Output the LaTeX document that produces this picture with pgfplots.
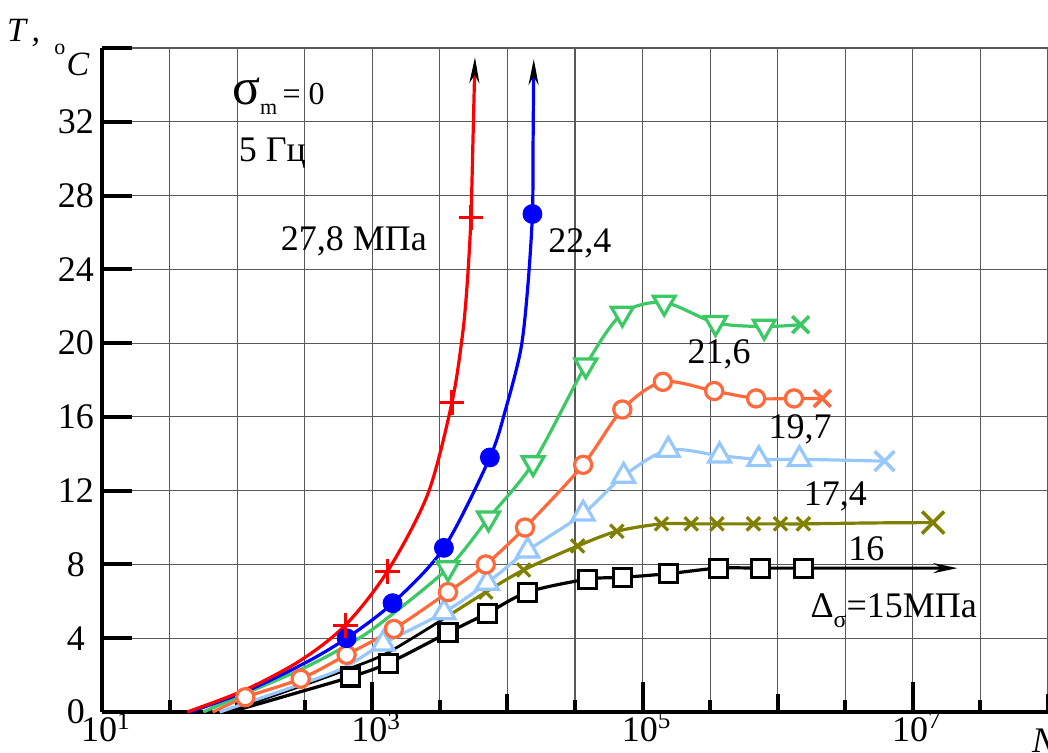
\documentclass[border=0pt]{standalone}
\usepackage{fontspec}
\setmainfont{Liberation Serif}
\usepackage{pgfplots}
\pgfplotsset{compat=1.18}
\usetikzlibrary{arrows.meta}
\definecolor{cred}{RGB}{255,0,0}
\definecolor{cblue}{RGB}{0,0,255}
\definecolor{cgreen}{RGB}{60,200,100}
\definecolor{corange}{RGB}{255,105,60}
\definecolor{clblue}{RGB}{150,200,255}
\definecolor{colive}{RGB}{128,128,0}
\begin{document}
\fontsize{18}{21}\selectfont
\begin{tikzpicture}
\begin{axis}[
  scale only axis, width=473pt, height=332pt,
  xmin=1, xmax=8, ymin=0, ymax=36,
  axis lines*=left,
  axis line style={line width=2pt},
  clip=false,
  xtick={1,3,5,7},
  xticklabels={10\textsuperscript{1},10\textsuperscript{3},10\textsuperscript{5},10\textsuperscript{7}},
  extra x ticks={2,4,6,8},
  extra x tick labels={},
  extra x tick style={major tick length=9pt, grid=major},
  minor xtick={1.5,2.5,3.5,4.5,5.5,6.5,7.5},
  ytick={0,4,8,12,16,20,24,28,32},
  yticklabels={0,4,8,12,16,20,24,28,32},
  extra y ticks={36}, extra y tick labels={},
  extra y tick style={grid=major},
  xmajorgrids=true, xminorgrids=true, ymajorgrids=true,
  major grid style={black!65, line width=0.6pt},
  minor grid style={black!65, line width=0.6pt},
  major tick length=15pt, minor tick length=6pt,
  every tick/.style={black, line width=2pt},
  tick align=inside,
  tick label style={font=\fontsize{18}{20}\selectfont},
  xticklabel style={yshift=1pt, xshift=2pt, inner sep=1pt},
  yticklabel style={anchor=center, xshift=-13pt, inner sep=1pt},
]
% black (15 MPa)
\addplot[black, line width=1.6pt, smooth, tension=0.5, -{Stealth[length=12pt,width=5pt]}] coordinates {
 (1.95,0) (2.47,1.1) (2.84,1.9) (3.12,2.65) (3.56,4.3) (3.85,5.35) (4.15,6.5) (4.59,7.2) (4.85,7.3) (5.19,7.5) (5.56,7.8) (5.87,7.8) (6.19,7.8) (6.8,7.8) (7.33,7.8)};
\addplot[black, only marks, mark=square*, mark size=4.5pt, mark options={fill=white, line width=1.6pt}] coordinates {
 (2.84,1.9) (3.12,2.65) (3.56,4.3) (3.85,5.35) (4.15,6.5) (4.59,7.2) (4.85,7.3) (5.19,7.5) (5.56,7.8) (5.87,7.8) (6.19,7.8)};
% olive (16) -- lower part drawn black
\addplot[black, line width=1.4pt, smooth, tension=0.5] coordinates {
 (1.92,0) (2.47,1.4) (2.81,2.3) (3.11,3.2) (3.56,5.2)};
\addplot[colive, line width=1.6pt, smooth, tension=0.5] coordinates {
 (3.56,5.2) (3.84,6.5) (4.12,7.7) (4.52,9.0) (4.81,9.8) (5.14,10.2) (5.36,10.2) (5.55,10.2) (5.82,10.2) (6.02,10.2) (6.19,10.2) (6.7,10.25) (7.15,10.27)};
\addplot[colive, only marks, mark=x, mark size=4.7pt, mark options={line width=1.6pt}] coordinates {
 (3.84,6.5) (4.12,7.7) (4.52,9.0) (4.81,9.8) (5.14,10.2) (5.36,10.2) (5.55,10.2) (5.82,10.2) (6.02,10.2) (6.19,10.2)};
\addplot[colive, only marks, mark=x, mark size=7.8pt, mark options={line width=1.8pt}] coordinates {(7.15,10.27)};
% light blue (17.4)
\addplot[clblue, line width=1.6pt, smooth, tension=0.5] coordinates {
 (1.87,0) (2.47,1.5) (2.79,2.4) (3.08,3.7) (3.53,5.4) (3.85,7.0) (4.15,8.75) (4.56,10.75) (4.86,12.8) (5.19,14.2) (5.57,13.9) (5.86,13.7) (6.16,13.7) (6.5,13.65) (6.79,13.6)};
\addplot[clblue, only marks, mark=triangle*, mark size=6.3pt, mark options={fill=white, line width=1.6pt}] coordinates {
 (3.08,3.7) (3.53,5.4) (3.85,7.0) (4.15,8.75) (4.56,10.75) (4.86,12.8) (5.19,14.2) (5.57,13.9) (5.86,13.7) (6.16,13.7)};
\addplot[clblue, only marks, mark=x, mark size=7pt, mark options={line width=1.8pt}] coordinates {(6.79,13.6)};
% orange (19.7)
\addplot[corange, line width=1.6pt, smooth, tension=0.5] coordinates {
 (1.82,0) (2.06,0.8) (2.47,1.8) (2.81,3.1) (3.16,4.5) (3.56,6.5) (3.84,8.0) (4.13,10.0) (4.56,13.4) (4.85,16.4) (5.15,17.9) (5.53,17.4) (5.84,17.0) (6.12,17.0) (6.33,17.0)};
\addplot[corange, only marks, mark=*, mark size=4.3pt, mark options={fill=white, line width=1.6pt}] coordinates {
 (2.06,0.8) (2.47,1.8) (2.81,3.1) (3.16,4.5) (3.56,6.5) (3.84,8.0) (4.13,10.0) (4.56,13.4) (4.85,16.4) (5.15,17.9) (5.53,17.4) (5.84,17.0) (6.12,17.0)};
\addplot[corange, only marks, mark=x, mark size=6pt, mark options={line width=1.8pt}] coordinates {(6.33,17.0)};
% green (21.6)
\addplot[cgreen, line width=1.6pt, smooth, tension=0.5] coordinates {
 (1.75,0) (2.06,1.0) (2.47,2.3) (2.81,3.6) (3.06,4.8) (3.56,7.8) (3.86,10.5) (4.19,13.5) (4.58,18.8) (4.85,21.6) (5.16,22.2) (5.54,21.1) (5.90,20.9) (6.17,21.0)};
\addplot[cgreen, only marks, mark=triangle*, mark size=6.3pt, mark options={fill=white, line width=1.6pt, rotate=180}] coordinates {
 (3.56,7.8) (3.86,10.5) (4.19,13.5) (4.58,18.8) (4.85,21.6) (5.16,22.2) (5.54,21.1) (5.90,20.9)};
\addplot[cgreen, only marks, mark=x, mark size=6pt, mark options={line width=1.8pt}] coordinates {(6.17,21.0)};
% blue (22.4)
\addplot[cblue, line width=1.6pt, smooth, tension=0.5, -{Stealth[black,length=13pt,width=5pt]}] coordinates {
 (1.65,0) (2.06,1.1) (2.5,2.65) (2.81,4.0) (3.15,5.9) (3.53,8.9) (3.87,13.8) (3.99,16.5) (4.10,19.7) (4.15,23.0) (4.185,27.0) (4.19,31) (4.195,35.4)};
\addplot[cblue, only marks, mark=*, mark size=4.75pt] coordinates {
 (2.81,4.0) (3.15,5.9) (3.53,8.9) (3.87,13.8) (4.185,27.0)};
% red (27.8)
\addplot[cred, line width=1.6pt, smooth, tension=0.5, -{Stealth[black,length=13pt,width=5pt]}] coordinates {
 (1.63,0) (2.06,1.2) (2.47,2.8) (2.80,4.7) (3.11,7.6) (3.41,11.8) (3.59,16.8) (3.67,20.6) (3.705,23.5) (3.73,26.8) (3.745,31) (3.76,35.5)};
\addplot[cred, only marks, mark=+, mark size=6.2pt, mark options={line width=1.6pt}] coordinates {
 (2.80,4.7) (3.11,7.6) (3.59,16.8) (3.73,26.8)};
% annotations
\node[anchor=west, inner sep=0pt] at (axis cs:1.96,33.4) {{\fontsize{26}{26}\selectfont σ}\raisebox{-5pt}{\fontsize{11}{11}\selectfont m}{\fontsize{16}{16}\selectfont\,= 0}};
\node[anchor=west, inner sep=0pt] at (axis cs:2.01,30.3) {5 Гц};
\node[anchor=west, inner sep=0pt] at (axis cs:2.32,25.5) {27,8 МПа};
\node[anchor=west, inner sep=0pt] at (axis cs:4.30,25.4) {22,4};
\node[anchor=west, inner sep=0pt] at (axis cs:5.33,19.4) {21,6};
\node[anchor=west, inner sep=0pt] at (axis cs:5.93,15.35) {19,7};
\node[anchor=west, inner sep=0pt] at (axis cs:6.19,11.7) {17,4};
\node[anchor=west, inner sep=0pt] at (axis cs:6.52,8.86) {16};
\node[anchor=west, inner sep=0pt] at (axis cs:6.24,5.5) {Δ\raisebox{-5pt}{\fontsize{12}{12}\selectfont σ}=15МПа};
\node[inner sep=0pt] at (axis cs:0.42,36.8) {\fontsize{17}{17}\selectfont\itshape T\,,};
\node[inner sep=0pt] at (axis cs:0.689,35.9) {\fontsize{11}{11}\selectfont o};
\node[inner sep=0pt] at (axis cs:0.822,35.1) {\fontsize{17}{17}\selectfont\itshape C};
\node[anchor=west, inner sep=0pt] at (axis cs:7.88,-1.55) {\itshape N};
\end{axis}
\pgfresetboundingbox
\path[use as bounding box] ([xshift=-51pt,yshift=-20.5pt]current axis.south west) rectangle ([yshift=24pt]current axis.north east);
\end{tikzpicture}
\end{document}
